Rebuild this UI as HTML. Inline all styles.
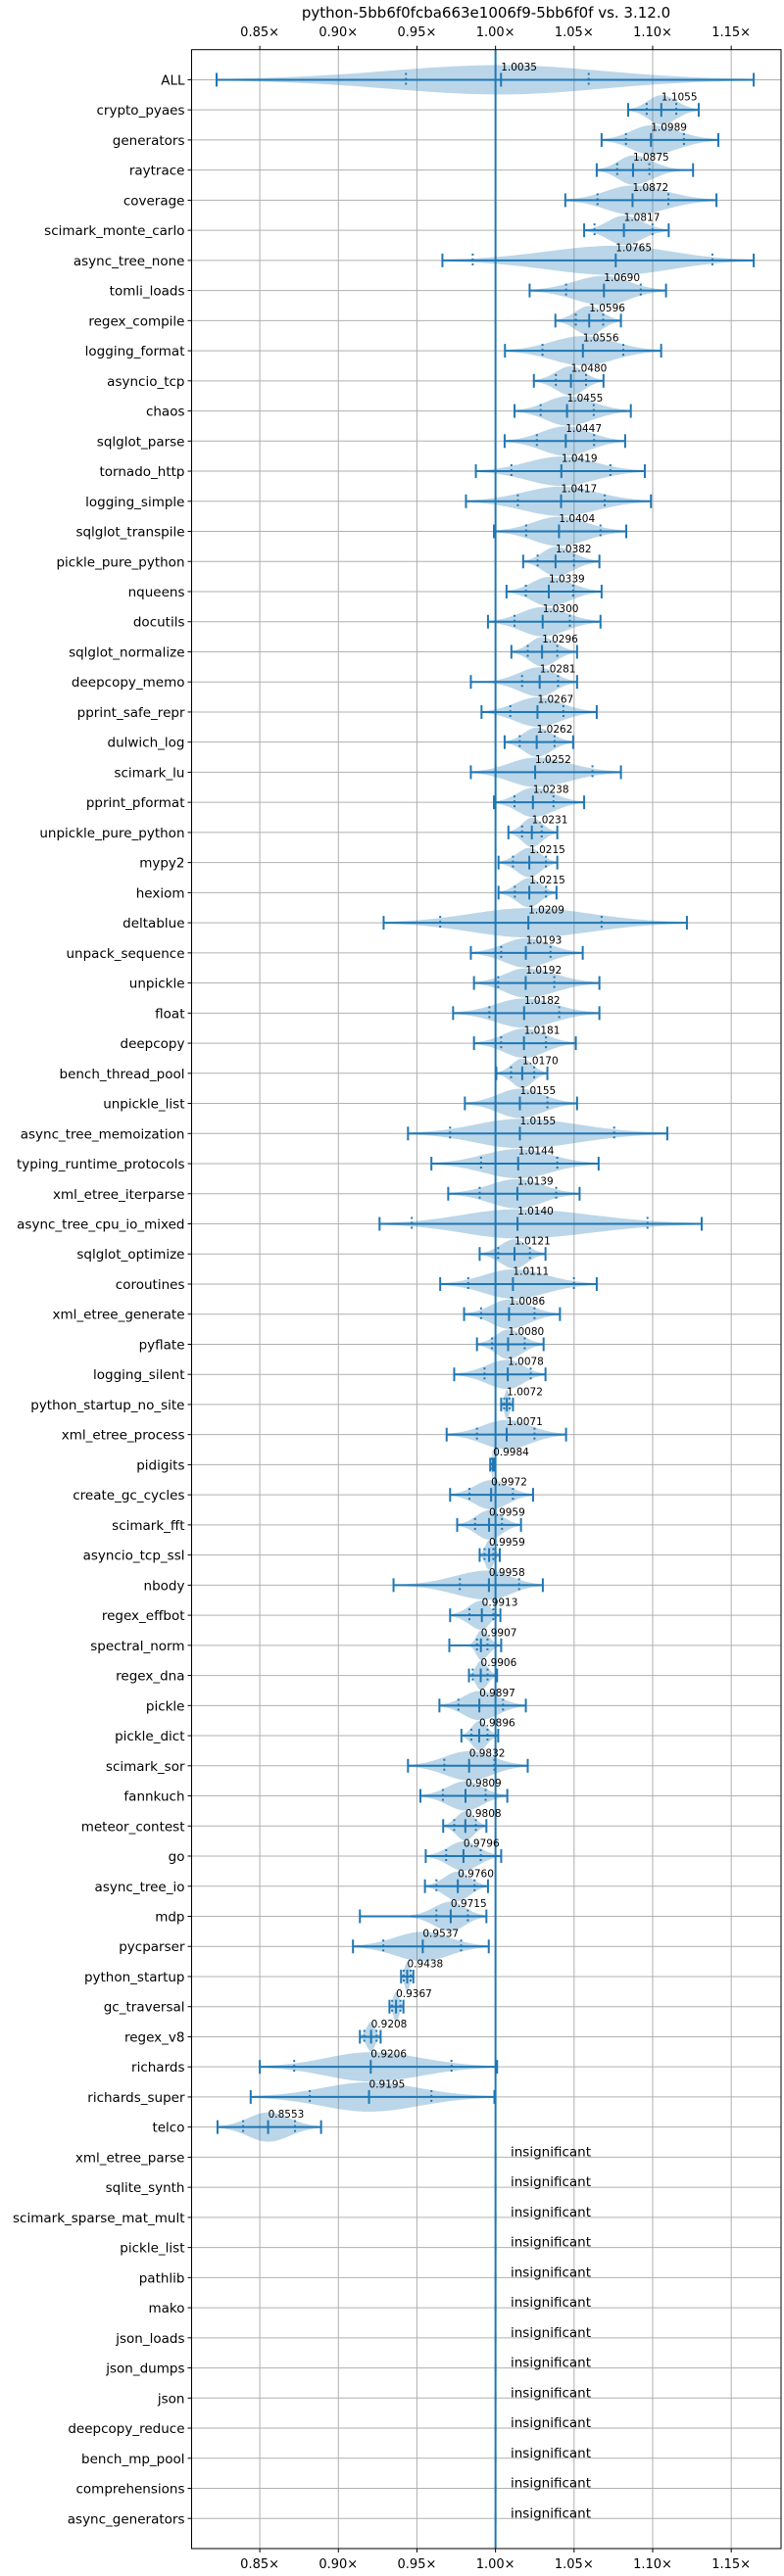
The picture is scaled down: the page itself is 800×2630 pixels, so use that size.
<!DOCTYPE html>
<html><head><meta charset="utf-8"><style>
html,body{margin:0;padding:0;background:#fff;}
svg{display:block;font-family:"DejaVu Sans","Liberation Sans",sans-serif;}
</style></head><body>
<svg id="chart" width="800" height="2630" viewBox="0 0 800 2630" xmlns="http://www.w3.org/2000/svg">
<text x="496" y="18" font-size="15" text-anchor="middle" fill="#000">python-5bb6f0fcba663e1006f9-5bb6f0f vs. 3.12.0</text>
<g id="grid"></g>
<g id="violins"></g>
<g id="marks"></g>
<g id="labels"></g>
</svg>
<script>
const names = ["ALL","crypto_pyaes","generators","raytrace","coverage","scimark_monte_carlo","async_tree_none","tomli_loads","regex_compile","logging_format","asyncio_tcp","chaos","sqlglot_parse","tornado_http","logging_simple","sqlglot_transpile","pickle_pure_python","nqueens","docutils","sqlglot_normalize","deepcopy_memo","pprint_safe_repr","dulwich_log","scimark_lu","pprint_pformat","unpickle_pure_python","mypy2","hexiom","deltablue","unpack_sequence","unpickle","float","deepcopy","bench_thread_pool","unpickle_list","async_tree_memoization","typing_runtime_protocols","xml_etree_iterparse","async_tree_cpu_io_mixed","sqlglot_optimize","coroutines","xml_etree_generate","pyflate","logging_silent","python_startup_no_site","xml_etree_process","pidigits","create_gc_cycles","scimark_fft","asyncio_tcp_ssl","nbody","regex_effbot","spectral_norm","regex_dna","pickle","pickle_dict","scimark_sor","fannkuch","meteor_contest","go","async_tree_io","mdp","pycparser","python_startup","gc_traversal","regex_v8","richards","richards_super","telco"];
const medians = [1.0035,1.1055,1.0989,1.0875,1.0872,1.0817,1.0765,1.0690,1.0596,1.0556,1.0480,1.0455,1.0447,1.0419,1.0417,1.0404,1.0382,1.0339,1.0300,1.0296,1.0281,1.0267,1.0262,1.0252,1.0238,1.0231,1.0215,1.0215,1.0209,1.0193,1.0192,1.0182,1.0181,1.0170,1.0155,1.0155,1.0144,1.0139,1.0140,1.0121,1.0111,1.0086,1.0080,1.0078,1.0072,1.0071,0.9984,0.9972,0.9959,0.9959,0.9958,0.9913,0.9907,0.9906,0.9897,0.9896,0.9832,0.9809,0.9808,0.9796,0.9760,0.9715,0.9537,0.9438,0.9367,0.9208,0.9206,0.9195,0.8553];
const mins = [0.8225,1.0844,1.0675,1.0644,1.0444,1.0564,0.9662,1.0217,1.0381,1.006,1.0244,1.0121,1.0058,0.9875,0.9812,0.999,1.0176,1.007,0.9952,1.0101,0.9843,0.9911,1.0058,0.9843,0.999,1.0082,1.0019,1.0019,0.9288,0.9843,0.9863,0.973,0.9863,1.0005,0.9805,0.9443,0.9592,0.9699,0.9262,0.9899,0.9648,0.98,0.9882,0.9737,1.0036,0.9689,0.9966,0.9711,0.9756,0.9899,0.9351,0.9711,0.9706,0.9831,0.9643,0.9783,0.9443,0.9522,0.9667,0.9556,0.9551,0.9137,0.9093,0.9399,0.9325,0.9137,0.85,0.8442,0.8231];
const maxs = [1.1643,1.1293,1.1418,1.1257,1.1406,1.1102,1.1643,1.1085,1.0798,1.1054,1.0687,1.0861,1.0825,1.095,1.0989,1.0832,1.0661,1.0675,1.0668,1.0519,1.0519,1.0644,1.0494,1.0798,1.0564,1.0393,1.0393,1.0388,1.1218,1.0555,1.0661,1.0661,1.0511,1.033,1.0519,1.1093,1.0656,1.0535,1.1312,1.0318,1.0644,1.041,1.0306,1.0318,1.0111,1.0449,0.999,1.0239,1.0162,1.0027,1.0301,1.0031,1.0036,1.001,1.0193,1.0017,1.0205,1.0075,0.9942,1.0036,0.9952,0.9942,0.9957,0.9477,0.9414,0.9269,1.001,0.9993,0.889];
const q1s = [0.943,1.0962,1.083,1.0774,1.0649,1.063,0.9855,1.0449,1.0511,1.0299,1.0384,1.0287,1.0263,1.0101,1.0142,1.0195,1.0268,1.0193,1.0121,1.0205,1.0169,1.0094,1.0154,1.0,1.0121,1.0169,1.0111,1.0123,0.9648,1.0036,1.0017,0.9961,1.0036,1.0099,1.0,0.9711,0.9908,0.9899,0.9467,1.0017,0.9826,0.9908,0.9978,0.993,1.0055,0.9882,0.9975,0.9834,0.987,0.993,0.9773,0.9834,0.9882,0.9855,0.9764,0.9846,0.9674,0.9665,0.9737,0.9686,0.9624,0.9624,0.9286,0.9416,0.9342,0.9165,0.8719,0.8818,0.8394];
const q3s = [1.0593,1.115,1.1199,1.0979,1.11,1.0999,1.138,1.0924,1.0685,1.0813,1.0576,1.0625,1.0627,1.0731,1.0695,1.0668,1.0499,1.0494,1.0473,1.0393,1.0398,1.0432,1.0376,1.0617,1.0369,1.0294,1.0321,1.0321,1.0675,1.035,1.0374,1.0405,1.0321,1.0246,1.033,1.0755,1.0393,1.0386,1.0967,1.0219,1.0499,1.0248,1.0186,1.0224,1.0089,1.0248,0.9987,1.0111,1.0041,0.9986,1.015,0.9986,0.9949,0.9949,1.0048,0.9949,0.9993,0.9937,0.9875,0.9906,0.9867,0.9824,0.9781,0.946,0.9395,0.9243,0.972,0.9592,0.8724];
const insignificant = ["xml_etree_parse","sqlite_synth","scimark_sparse_mat_mult","pickle_list","pathlib","mako","json_loads","json_dumps","json","deepcopy_reduce","bench_mp_pool","comprehensions","async_generators"];
const xTicks = [0.85,0.90,0.95,1.00,1.05,1.10,1.15];
const xTickLabels = ["0.85×","0.90×","0.95×","1.00×","1.05×","1.10×","1.15×"];

const NS = "http://www.w3.org/2000/svg";
const L = 195.5, R = 797, T = 50.7, B = 2602;
const XMIN = 0.8066, XMAX = 1.1817;
const xs = v => L + (v - XMIN) / (XMAX - XMIN) * (R - L);
const nRows = names.length + insignificant.length;
const ys = i => T + (i + 1) / (nRows + 1) * (B - T);
const C = "#1f77b4";
function mk(tag, attrs, parent) {
  const e = document.createElementNS(NS, tag);
  for (const k in attrs) e.setAttribute(k, attrs[k]);
  parent.appendChild(e);
  return e;
}
const grid = document.getElementById("grid"), vio = document.getElementById("violins"),
      marks = document.getElementById("marks"), labs = document.getElementById("labels"),
      svg = document.getElementById("chart");

xTicks.forEach((t, k) => {
  const x = xs(t);
  const g = mk("line", {x1:x, x2:x, y1:T, y2:B, stroke:"#b0b0b0", "stroke-width":1}, grid);
  
  
  mk("line", {x1:x, x2:x, y1:T-4, y2:T, stroke:"#000", "stroke-width":1}, grid);
  mk("line", {x1:x, x2:x, y1:B, y2:B+4, stroke:"#000", "stroke-width":1}, grid);
  const tt = mk("text", {x:x, y:37, "font-size":13, "text-anchor":"middle", fill:"#000"}, labs);
  tt.textContent = xTickLabels[k];
  
  
  const tb = mk("text", {x:x, y:2622, "font-size":13, "text-anchor":"middle", fill:"#000"}, labs);
  tb.textContent = xTickLabels[k];
  
  
});

const allNames = names.concat(insignificant);
allNames.forEach((n, i) => {
  const y = ys(i);
  const g = mk("line", {x1:L, x2:R, y1:y, y2:y, stroke:"#b0b0b0", "stroke-width":1}, grid);
  
  
  mk("line", {x1:L-4, x2:L, y1:y, y2:y, stroke:"#000", "stroke-width":1}, grid);
  const t = mk("text", {x:L-7, y:y+5, "font-size":13.5, "text-anchor":"end", fill:"#000"}, labs);
  t.textContent = n;
  
  
});

const HALF = 15;
names.forEach((n, i) => {
  const y = ys(i);
  const med = medians[i], lo = mins[i], hi = maxs[i];
  const sl = Math.min(Math.max((med - q1s[i]) / 0.674, 1e-4), (med - lo) / 2 + 1e-4);
  const sr = Math.min(Math.max((q3s[i] - med) / 0.674, 1e-4), (hi - med) / 2 + 1e-4);
  const N = 80, top = [], bot = [];
  for (let k = 0; k <= N; k++) {
    const v = lo + (hi - lo) * k / N;
    const s = v < med ? sl : sr;
    const d = Math.pow(Math.exp(-0.5 * Math.pow((v - med) / s, 2)), 1.6);
    const w = HALF * (0.02 + 0.98 * d);
    top.push(xs(v).toFixed(2) + "," + (y - w).toFixed(2));
    bot.unshift(xs(v).toFixed(2) + "," + (y + w).toFixed(2));
  }
  const p = mk("polygon", {points: top.concat(bot).join(" "), fill:C, "fill-opacity":0.3}, vio);
  
  

  const wl = mk("line", {x1:xs(lo), x2:xs(hi), y1:y, y2:y, stroke:C, "stroke-width":2}, marks);
  
  
  [lo, hi, med].forEach(v => {
    mk("line", {x1:xs(v), x2:xs(v), y1:y-7, y2:y+7, stroke:C, "stroke-width":2}, marks);
  });
  [q1s[i], q3s[i]].forEach(v => {
    mk("line", {x1:xs(v), x2:xs(v), y1:y-7, y2:y+7, stroke:C, "stroke-width":2, "stroke-dasharray":"2,3"}, marks);
  });
  const ml = mk("text", {x:xs(med), y:y-9.5, "font-size":10.5, fill:"#000"}, labs);
  ml.textContent = med.toFixed(4);
  
  
});

insignificant.forEach((n, j) => {
  const i = names.length + j, y = ys(i);
  mk("ellipse", {cx:xs(1.0), cy:y, rx:1.2, ry:7, fill:C, "fill-opacity":0.3}, vio);
  const t = mk("text", {x:521, y:y-1, "font-size":13.5, fill:"#000"}, labs);
  t.textContent = "insignificant";
  
  
});

const ref = mk("line", {x1:xs(1), x2:xs(1), y1:T, y2:B, stroke:C, "stroke-width":2}, marks);


const fr = mk("rect", {x:L, y:T, width:R-L, height:B-T, fill:"none", stroke:"#000", "stroke-width":1}, svg);


</script>
</body></html>
